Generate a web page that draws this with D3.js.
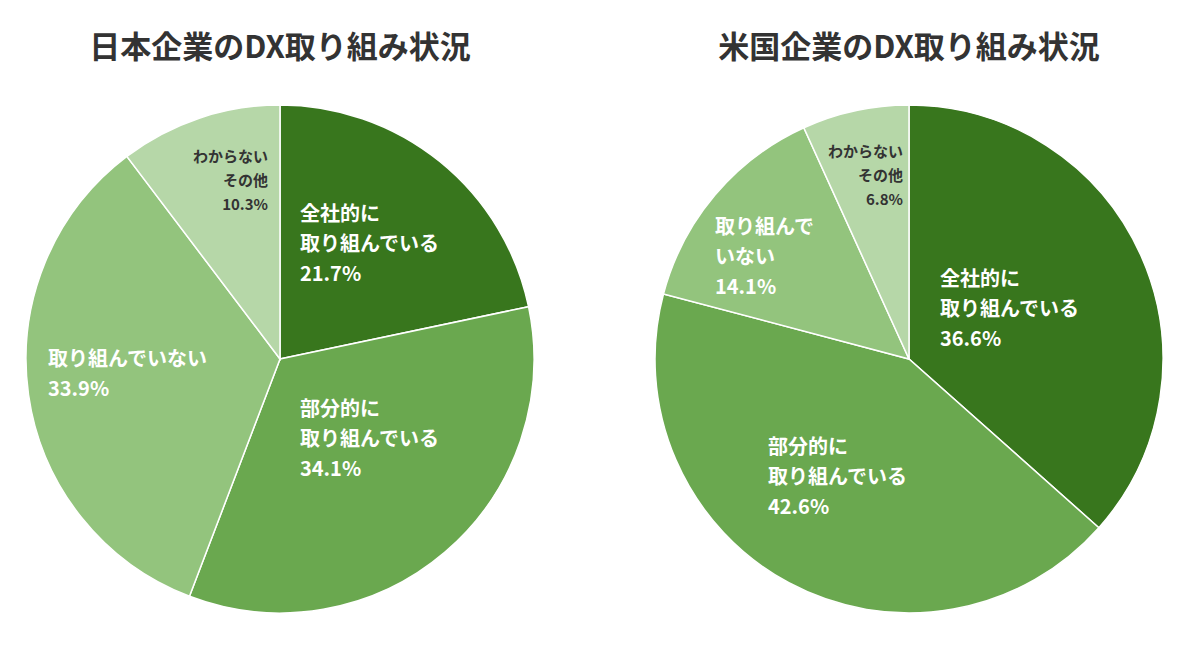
<!DOCTYPE html>
<html><head><meta charset="utf-8">
<script src="https://cdn.jsdelivr.net/npm/d3@7"></script>
<style>body{margin:0;background:#fff}svg{font-family:"Noto Sans CJK JP",sans-serif}</style>
</head><body><div id="chart"></div>
<script>
var categories = ["全社的に取り組んでいる", "部分的に取り組んでいる", "取り組んでいない", "わからない・その他"]
var japanValues = [21.7, 34.1, 33.9, 10.3]
var usValues = [36.6, 42.6, 14.1, 6.8]
var titles = ["日本企業のDX取り組み状況", "米国企業のDX取り組み状況"]
var colors = ["#38761d", "#6aa84f", "#93c47d", "#b6d7a8"]

// label lines and offsets from pie centre (hand-placed like the original)
var japanLabels = [
    {lines: ["全社的に", "取り組んでいる", "21.7%"], dx: 20, dy: -138, anchor: "start", big: true},
    {lines: ["部分的に", "取り組んでいる", "34.1%"], dx: 20, dy: 57, anchor: "start", big: true},
    {lines: ["取り組んでいない", "33.9%"], dx: -232, dy: 7, anchor: "start", big: true},
    {lines: ["わからない", "その他", "10.3%"], dx: -12, dy: -197, anchor: "end", big: false}
]
var usLabels = [
    {lines: ["全社的に", "取り組んでいる", "36.6%"], dx: 31, dy: -73, anchor: "start", big: true},
    {lines: ["部分的に", "取り組んでいる", "42.6%"], dx: -141, dy: 95, anchor: "start", big: true},
    {lines: ["取り組んで", "いない", "14.1%"], dx: -194, dy: -125, anchor: "start", big: true},
    {lines: ["わからない", "その他", "6.8%"], dx: -6, dy: -202, anchor: "end", big: false}
]

var width = 1200, height = 646
var svg = d3.select("#chart").append("svg").attr("width", width).attr("height", height)

var pie = d3.pie().sort(null).value(function (d) { return d })
var arc = d3.arc().innerRadius(0).outerRadius(254)

function drawPie(values, labels, title, cx) {
    var cy = 359
    var g = svg.append("g").attr("transform", "translate(" + cx + "," + cy + ")")
    g.selectAll("path").data(pie(values)).enter().append("path")
        .attr("d", arc)
        .attr("fill", function (d, i) { return colors[i] })
        .attr("stroke", "#fff").attr("stroke-width", 1.5)

    svg.append("text").attr("x", cx).attr("y", 58).attr("text-anchor", "middle")
        .attr("font-size", 31).attr("font-weight", "bold").attr("fill", "#333")
        .text(title)

    labels.forEach(function (l) {
        var lh = l.big ? 30 : 24
        var t = g.append("text").attr("text-anchor", l.anchor)
            .attr("font-size", l.big ? 20 : 15).attr("font-weight", "bold")
            .attr("fill", l.big ? "#fff" : "#333")
        l.lines.forEach(function (s, i) {
            t.append("tspan").attr("x", l.dx).attr("y", l.dy + i * lh).text(s)
        })
    })
}

drawPie(japanValues, japanLabels, titles[0], 280)
drawPie(usValues, usLabels, titles[1], 909)
</script></body></html>
